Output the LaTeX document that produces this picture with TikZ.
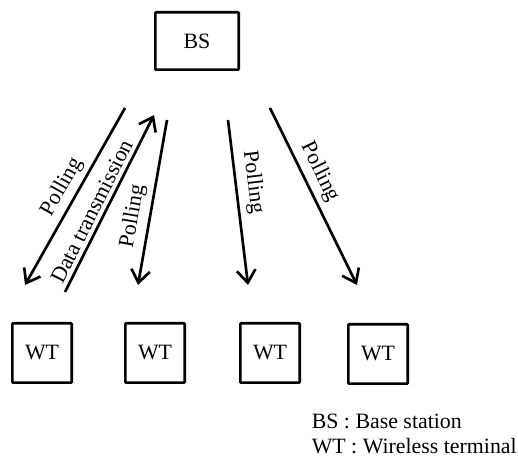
\documentclass[tikz,border=0pt]{standalone}
\usepackage{fontspec}
\setmainfont{Liberation Serif}
\usetikzlibrary{arrows.meta}
\begin{document}
\begin{tikzpicture}[x=0.75pt,y=0.75pt,
  every node/.style={font=\fontsize{16.4}{19}\selectfont, inner sep=0pt},
  station/.style={draw, line width=2pt, minimum width=62.5pt, minimum height=43pt, rounded corners=0.6pt},
  terminal/.style={draw, line width=2pt, minimum width=44.5pt, minimum height=44.5pt, rounded corners=0.6pt},
  link/.style={line width=2pt, -{Straight Barb[length=9.5pt, width=14pt, line width=2pt]}},
  lbl/.style={anchor=center}]
\useasboundingbox (0,0) rectangle (518,457);

% base station and terminals
\node[station] (bs) at (197,416) {BS};
\node[terminal] (wt1) at (42,104) {WT};
\node[terminal] (wt2) at (155,104) {WT};
\node[terminal] (wt3) at (270,104) {WT};
\node[terminal] (wt4) at (378,103) {WT};

% end points of the radio links
\coordinate (a1s) at (125,349);
\coordinate (a1e) at (25,172);
\coordinate (a2s) at (65,165);
\coordinate (a2e) at (154,342);
\coordinate (a3s) at (167,337);
\coordinate (a3e) at (138,172);
\coordinate (a4s) at (228,337);
\coordinate (a4e) at (248,172);
\coordinate (a5s) at (270,349);
\coordinate (a5e) at (357,172);

\draw[link] (a1s) -- (a1e);
\draw[link] (a2s) -- (a2e);
\draw[link] (a3s) -- (a3e);
\draw[link] (a4s) -- (a4e);
\draw[link] (a5s) -- (a5e);

% link labels
\node[lbl, rotate=60.5] (l1) at (62,270) {Polling};
\node[lbl, rotate=63.3] (l2) at (91.5,245.5) {Data transmission};
\node[lbl, rotate=80] (l3) at (133,241) {Polling};
\node[lbl, rotate=-83] (l4) at (253,275) {Polling};
\node[lbl, rotate=-63.8] (l5) at (320,285) {Polling};

% legend
\node[anchor=base west] (legbs) at (311.5,28.7) {BS : Base station};
\node[anchor=base west] (legwt) at (311.5,3.7) {WT : Wireless terminal};
\end{tikzpicture}
\end{document}
